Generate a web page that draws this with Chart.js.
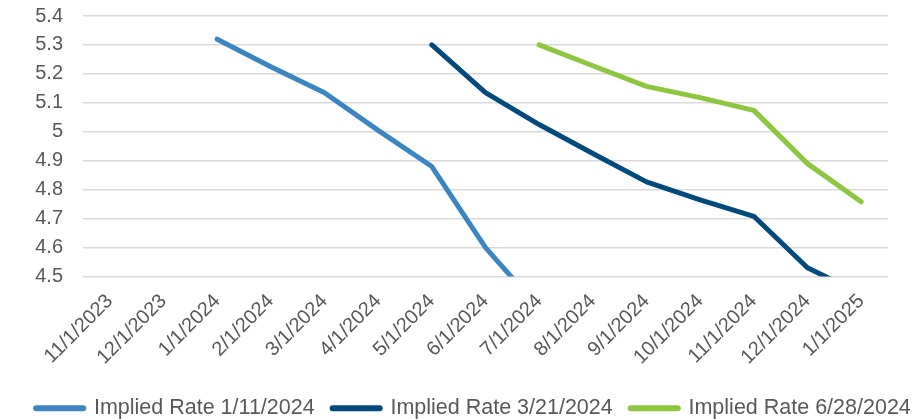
<!DOCTYPE html>
<html>
<head>
<meta charset="utf-8">
<script src="https://cdn.jsdelivr.net/npm/chart.js@4.4.1/dist/chart.umd.min.js"></script>
<style>
  html, body { margin: 0; padding: 0; background: #ffffff; }
  #wrap { width: 923px; height: 419px; }
</style>
</head>
<body>
<div id="wrap"><canvas id="c" width="923" height="419"></canvas></div>
<script>
// Monthly settlement dates
const months = [
  '11/1/2023', '12/1/2023', '1/1/2024', '2/1/2024', '3/1/2024', '4/1/2024',
  '5/1/2024', '6/1/2024', '7/1/2024', '8/1/2024', '9/1/2024', '10/1/2024',
  '11/1/2024', '12/1/2024', '1/1/2025'
];

// Implied policy rate curves, one per observation date (null = not priced)
const implied0111 = [null, null, 5.32, 5.225, 5.135, 5.005, 4.88, 4.60, 4.39, null, null, null, null, null, null];
const implied0321 = [null, null, null, null, null, null, 5.30, 5.135, 5.025, 4.925, 4.827, 4.765, 4.708, 4.53, 4.44];
const implied0628 = [null, null, null, null, null, null, null, null, 5.30, 5.228, 5.157, 5.118, 5.074, 4.89, 4.758];

const seriesNames = ['Implied Rate 1/11/2024', 'Implied Rate 3/21/2024', 'Implied Rate 6/28/2024'];
const seriesColors = ['#3B85C2', '#024A7E', '#8DC63F'];

const yMin = 4.5, yMax = 5.4, yStep = 0.1;

const textColor = '#595959';
const fontFamily = '"Liberation Sans", Arial, sans-serif';

function lineSet(name, data, color) {
  return {
    label: name,
    data: data,
    borderColor: color,
    backgroundColor: color,
    borderWidth: 5,
    borderCapStyle: 'round',
    borderJoinStyle: 'round',
    pointRadius: 0,
    pointHoverRadius: 0,
    pointStyle: 'line',
    tension: 0,
    spanGaps: false,
    fill: false
  };
}

// nudge the bottom legend row a little to the right
const legendNudge = {
  id: 'legendNudge',
  afterLayout(chart) {
    const lg = chart.legend;
    if (lg) { lg.left += 9; lg.right += 9; }
  }
};

new Chart(document.getElementById('c'), {
  type: 'line',
  data: {
    labels: months,
    datasets: [
      lineSet(seriesNames[0], implied0111, seriesColors[0]),
      lineSet(seriesNames[1], implied0321, seriesColors[1]),
      lineSet(seriesNames[2], implied0628, seriesColors[2])
    ]
  },
  plugins: [legendNudge],
  options: {
    responsive: false,
    animation: false,
    layout: { padding: { top: 16, right: 0, bottom: -10, left: 6 } },
    scales: {
      x: {
        offset: true,
        afterFit: (scale) => { scale.height = 103; },
        grid: { display: false, drawTicks: false },
        border: { display: false },
        ticks: {
          color: textColor,
          font: { family: fontFamily, size: 20 },
          minRotation: 45,
          maxRotation: 45,
          autoSkip: false,
          padding: 13
        }
      },
      y: {
        min: yMin,
        max: yMax,
        afterFit: (scale) => {
          scale.width = 77;
          scale.paddingTop = 0;
          scale.paddingBottom = 0;
        },
        grid: { color: '#d9d9d9', lineWidth: 1.5, drawTicks: false },
        border: { display: false },
        ticks: {
          stepSize: yStep,
          autoSkip: false,
          color: textColor,
          font: { family: fontFamily, size: 20 },
          padding: 20,
          callback: (v) => String(Number(v.toFixed(2)))
        }
      },
      // empty right-hand margin axis
      yRight: {
        position: 'right',
        display: true,
        afterFit: (scale) => { scale.width = 35; },
        grid: { display: false, drawTicks: false },
        border: { display: false },
        ticks: { display: false }
      }
    },
    plugins: {
      tooltip: { enabled: false },
      legend: {
        position: 'bottom',
        labels: {
          color: textColor,
          font: { family: fontFamily, size: 21.5 },
          usePointStyle: true,
          pointStyleWidth: 47,
          boxHeight: 6,
          padding: 18,
          generateLabels: (chart) =>
            Chart.defaults.plugins.legend.labels.generateLabels(chart).map((item) => {
              item.lineWidth = 6;
              item.lineCap = 'round';
              item.pointStyle = 'line';
              return item;
            })
        }
      }
    }
  }
});
</script>
</body>
</html>
